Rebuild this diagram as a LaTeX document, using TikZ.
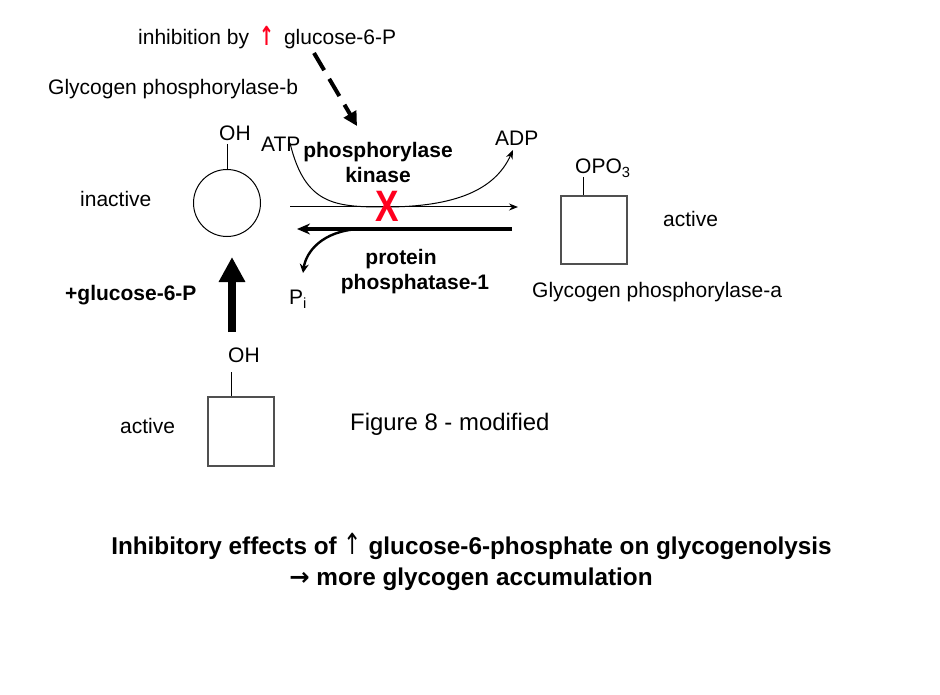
\documentclass[tikz,border=0pt]{standalone}
\usepackage{fontspec}
\setmainfont{Liberation Sans}
\newfontfamily\arrowfont{DejaVu Sans}
\usepackage{graphicx}
\usetikzlibrary{arrows.meta}
\definecolor{xred}{RGB}{255,0,30}
\definecolor{boxgray}{RGB}{80,80,80}
\begin{document}
\begin{tikzpicture}[x=1pt,y=-1pt,
  lbl/.style={inner sep=0pt, font=\fontsize{21}{25}\selectfont},
  blbl/.style={inner sep=0pt, font=\fontsize{21}{25}\selectfont\bfseries},
  ttl/.style={inner sep=0pt, font=\fontsize{24.3}{29}\selectfont\bfseries},
  enzbox/.style={draw=boxgray, line width=1.2pt, minimum width=66pt, minimum height=68pt, inner sep=0pt},
  stem/.style={draw, line width=1pt},
  thinarr/.style={line width=1pt, -{Stealth[length=9pt,width=7pt]}},
  thickarr/.style={line width=4pt, -{Stealth[length=13pt,width=11pt]}},
  midarr/.style={line width=2.4pt, -{Stealth[length=9pt,width=9pt]}}]
\useasboundingbox (0,0) rectangle (940,695);

% top labels
\node[lbl, anchor=base west] (inh) at (138,45) {inhibition by\hspace{10pt}{\color{xred}\arrowfont\bfseries\raisebox{-1pt}{\scalebox{0.85}[1.25]{↑}}}\hspace{10pt}glucose-6-P};
\node[lbl, anchor=base west] (gpb) at (48,95) {Glycogen phosphorylase-b};

% dashed arrow
\coordinate (d1) at (314,53);
\coordinate (d2) at (357,126);
\draw[line width=4pt, dash pattern=on 20pt off 10pt, -{Triangle[length=14pt,width=14pt]}] (d1) -- (d2);

% inactive circle
\node[draw, circle, line width=1pt, minimum size=67pt, inner sep=0pt] (phb) at (227,203) {};
\node[lbl, anchor=base west] (oh1) at (219,141) {OH};
\coordinate (s1) at (227,144);
\draw[stem] (s1) -- (phb.north);
\node[lbl, anchor=base west] (inact) at (80,207) {inactive};

% ATP / ADP
\node[lbl, anchor=base west] (atp) at (261,152) {ATP};
\node[lbl, anchor=base west] (adp) at (495,146) {ADP};
\node[blbl, anchor=base] (pk1) at (378,158) {phosphorylase};
\node[blbl, anchor=base] (pk2) at (378,183) {kinase};

\coordinate (c0) at (290,143);
\coordinate (cm) at (385,207);
\coordinate (c1) at (513,150);
\draw[thinarr] (c0) .. controls (305,205) and (335,207) .. (cm) .. controls (455,207) and (495,190) .. (c1);

% forward arrow
\coordinate (f0) at (290,207);
\coordinate (f1) at (518,207);
\draw[thinarr] (f0) -- (f1);

% red X
\node[inner sep=0pt, text=xred, font=\fontsize{44}{44}\selectfont\bfseries] (xx) at (387,206) {\scalebox{0.8}[1]{X}};

% backward thick arrow
\coordinate (b0) at (512,229);
\coordinate (b1) at (297,229);
\draw[thickarr] (b0) -- (b1);

% Pi curve
\coordinate (p0) at (359,229);
\coordinate (p1) at (303,273);
\draw[midarr] (p0) .. controls (322,231) and (306,252) .. (p1);
\node[lbl, anchor=base west] (pi) at (289,305) {P\textsubscript{i}};

\node[blbl, anchor=base] (pp1) at (401,265) {protein};
\node[blbl, anchor=base] (pp2) at (415,290) {phosphatase-1};

% active phosphorylase-a
\node[enzbox] (pha) at (594,230) {};
\node[lbl, anchor=base west] (opo) at (575,174) {OPO\textsubscript{3}};
\coordinate (s2) at (583,177);
\draw[stem] (s2) -- (s2 |- pha.north);
\node[lbl, anchor=base west] (act1) at (663,227) {active};
\node[lbl, anchor=base west] (gpa) at (532,297) {Glycogen phosphorylase-a};

% +glucose-6-P and big arrow
\node[blbl, anchor=base west] (g6p) at (65,300) {+glucose-6-P};
\coordinate (u0) at (232,332);
\coordinate (u1) at (232,257);
\draw[line width=8.5pt, -{Triangle[length=25pt,width=25pt]}] (u0) -- (u1);

% lower active form
\node[lbl, anchor=base west] (oh2) at (228,362) {OH};
\node[enzbox, minimum height=69pt] (phl) at (241,431.5) {};
\coordinate (s3) at (231,372);
\draw[stem] (s3) -- (s3 |- phl.north);
\node[lbl, anchor=base west] (act2) at (120,433) {active};

\node[inner sep=0pt, anchor=base west, font=\fontsize{23.9}{28}\selectfont] (fig) at (350,430) {Figure 8 - modified};

% title
\node[ttl, anchor=base] (t1) at (471.5,554) {Inhibitory effects of {\arrowfont\mdseries\scalebox{0.9}[1.2]{↑}} glucose-6-phosphate on glycogenolysis};
\node[ttl, anchor=base] (t2) at (471,585) {{\arrowfont→} more glycogen accumulation};
\end{tikzpicture}
\end{document}
